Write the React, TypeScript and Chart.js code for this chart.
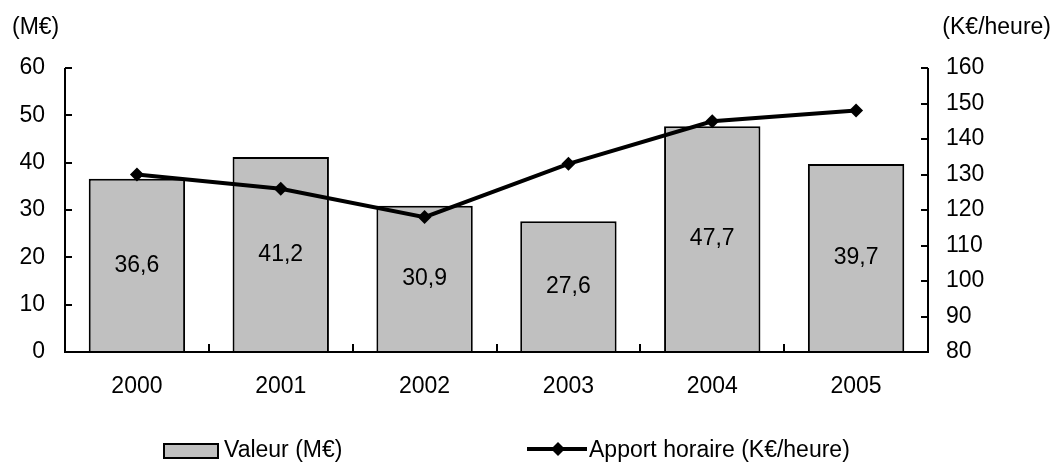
import React, { useEffect, useRef } from "react";
import { Chart, registerables } from "chart.js";

Chart.register(...registerables);

const years = ["2000", "2001", "2002", "2003", "2004", "2005"];
const valeur = [36.6, 41.2, 30.9, 27.6, 47.7, 39.7];
const apport = [130, 126, 118, 133, 145, 148];
const leftTicks = [0, 10, 20, 30, 40, 50, 60];
const rightTicks = [80, 90, 100, 110, 120, 130, 140, 150, 160];
const leftTitle = "(M€)";
const rightTitle = "(K€/heure)";
const legendBar = "Valeur (M€)";
const legendLine = "Apport horaire (K€/heure)";

const FONT = "Liberation Sans, Arial, sans-serif";
const GRAY = "#c0c0c0";

export default function App() {
  const ref = useRef<HTMLCanvasElement | null>(null);

  useEffect(() => {
    document.body.style.margin = "0";
    const canvas = ref.current;
    if (!canvas) return;

    const decor = {
      id: "decor",
      afterDatasetsDraw(chart: any) {
        const ctx = chart.ctx;
        ctx.save();
        const meta = chart.getDatasetMeta(1);
        ctx.fillStyle = "#000";
        ctx.font = `23px ${FONT}`;
        ctx.textAlign = "center";
        ctx.textBaseline = "middle";
        meta.data.forEach((el: any, i: number) => {
          const v = valeur[i];
          ctx.fillText(v.toFixed(1).replace(".", ","), el.x, (el.y + el.base) / 2);
        });
        ctx.restore();
      },
      afterDraw(chart: any) {
        const ctx = chart.ctx;
        const area = chart.chartArea;
        const yl = chart.scales.y;
        const yr = chart.scales.y2;
        ctx.save();
        ctx.strokeStyle = "#000";
        ctx.lineWidth = 2;
        ctx.beginPath();
        ctx.moveTo(area.left, area.top);
        ctx.lineTo(area.left, area.bottom);
        ctx.lineTo(area.right, area.bottom);
        ctx.lineTo(area.right, area.top);
        ctx.stroke();
        ctx.beginPath();
        leftTicks.forEach((t) => {
          const y = Math.round(yl.getPixelForValue(t));
          ctx.moveTo(area.left, y);
          ctx.lineTo(area.left + 7, y);
        });
        rightTicks.forEach((t) => {
          const y = Math.round(yr.getPixelForValue(t));
          ctx.moveTo(area.right, y);
          ctx.lineTo(area.right - 7, y);
        });
        const n = years.length;
        for (let i = 0; i <= n; i++) {
          const x = Math.round(area.left + ((area.right - area.left) * i) / n);
          ctx.moveTo(x, area.bottom);
          ctx.lineTo(x, area.bottom - 8);
        }
        ctx.stroke();

        ctx.fillStyle = "#000";
        ctx.font = `23px ${FONT}`;
        ctx.textBaseline = "middle";
        ctx.textAlign = "left";
        ctx.fillText(leftTitle, 12, 28);
        ctx.textAlign = "right";
        ctx.fillText(rightTitle, 1051, 28);

        const ly = 451;
        ctx.fillStyle = GRAY;
        ctx.fillRect(164, 444, 54, 14);
        ctx.lineWidth = 2;
        ctx.strokeRect(164, 444, 54, 14);
        ctx.fillStyle = "#000";
        ctx.textAlign = "left";
        ctx.font = `23px ${FONT}`;
        ctx.fillText(legendBar, 224, ly);

        ctx.lineWidth = 4;
        ctx.beginPath();
        ctx.moveTo(527, 449);
        ctx.lineTo(587, 449);
        ctx.stroke();
        ctx.beginPath();
        ctx.moveTo(558, 442);
        ctx.lineTo(565, 449);
        ctx.lineTo(558, 456);
        ctx.lineTo(551, 449);
        ctx.closePath();
        ctx.fill();
        ctx.fillText(legendLine, 589, ly);
        ctx.restore();
      },
    };

    const chart = new Chart(canvas, {
      type: "bar",
      data: {
        labels: years,
        datasets: [
          {
            type: "line",
            label: legendLine,
            data: apport,
            yAxisID: "y2",
            borderColor: "#000",
            backgroundColor: "#000",
            borderWidth: 4,
            pointStyle: "rectRot",
            pointRadius: 7,
            pointBorderWidth: 0,
            pointBackgroundColor: "#000",
            tension: 0,
            order: 0,
          } as any,
          {
            type: "bar",
            label: legendBar,
            data: valeur,
            yAxisID: "y",
            backgroundColor: GRAY,
            borderColor: "#000",
            borderWidth: 2,
            barPercentage: 0.67,
            categoryPercentage: 1,
            order: 1,
          } as any,
        ],
      },
      options: {
        responsive: false,
        animation: false,
        layout: { padding: { top: 68, left: 0, right: 0, bottom: 0 } },
        plugins: { legend: { display: false }, tooltip: { enabled: false } },
        scales: {
          x: {
            grid: { display: false, drawTicks: false },
            border: { display: false },
            ticks: { color: "#000", font: { family: FONT, size: 23 }, padding: 21, maxRotation: 0 },
            afterFit: (s: any) => { s.height = 113; },
          },
          y: {
            position: "left",
            min: 0,
            max: 60,
            grid: { display: false, drawTicks: false },
            border: { display: false },
            ticks: { stepSize: 10, color: "#000", font: { family: FONT, size: 23 }, padding: 20 },
            afterFit: (s: any) => { s.width = 65; },
          },
          y2: {
            position: "right",
            min: 80,
            max: 160,
            grid: { display: false, drawTicks: false },
            border: { display: false },
            ticks: { stepSize: 10, color: "#000", font: { family: FONT, size: 23 }, padding: 18 },
            afterFit: (s: any) => { s.width = 126; },
          },
        },
      },
      plugins: [decor],
    });
    return () => chart.destroy();
  }, []);

  return <canvas ref={ref} width={1054} height={465} style={{ display: "block" }} />;
}
